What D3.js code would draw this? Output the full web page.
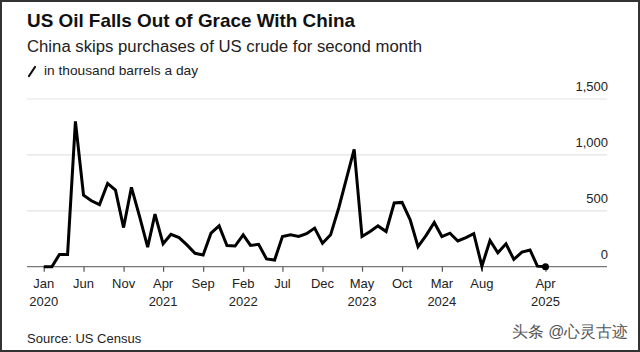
<!DOCTYPE html>
<html>
<head>
<meta charset="utf-8">
<script src="https://cdn.jsdelivr.net/npm/d3@7"></script>
<style>
  body { margin: 0; background: #fff; }
  text { font-family: "Liberation Sans", Arial, sans-serif; }
</style>
</head>
<body>
<div id="chart"></div>
<script>
// monthly imports, Jan 2020 .. Apr 2025 (thousand barrels a day)
const startMonth = "2020-01";
const values = [
  0, 0, 110, 110, 1300, 640, 590, 555, 745, 685, 350, 710,
  450, 175, 470, 205, 290, 260, 195, 120, 105, 300, 365, 190,
  185, 285, 190, 200, 70, 60, 270, 285, 270, 295, 345, 210,
  285, 525, 775, 1050, 270, 315, 365, 315, 570, 575, 420, 180,
  280, 395, 270, 300, 230, 260, 295, 5, 235, 125, 205, 65,
  130, 150, 5, 0
];
const tickMonths = ["2020-01", "2020-06", "2020-11", "2021-04", "2021-09", "2022-02",
  "2022-07", "2022-12", "2023-05", "2023-10", "2024-03", "2024-08", "2025-04"];
const tickMonthLabels = ["Jan", "Jun", "Nov", "Apr", "Sep", "Feb", "Jul", "Dec", "May", "Oct", "Mar", "Aug", "Apr"];
const tickYearLabels = ["2020", "", "", "2021", "", "2022", "", "", "2023", "", "2024", "", "2025"];
const yTicks = [0, 500, 1000, 1500];

const width = 640, height = 352;
const parse = d3.timeParse("%Y-%m");
const start = parse(startMonth);
const data = values.map((v, i) => ({ date: d3.timeMonth.offset(start, i), value: v }));

const svg = d3.select("#chart").append("svg")
  .attr("width", width)
  .attr("height", height);

svg.append("rect")
  .attr("x", 1).attr("y", 1)
  .attr("width", width - 2).attr("height", height - 2)
  .attr("fill", "#fff")
  .attr("stroke", "#333")
  .attr("stroke-width", 2);

const x = d3.scaleTime()
  .domain([new Date(2019, 9, 29), new Date(2025, 10, 22)])
  .range([27, 607]);

const y = d3.scaleLinear()
  .domain([0, 1500])
  .range([266.7, 99]);

// title block
svg.append("text")
  .attr("x", 27).attr("y", 27)
  .attr("font-size", 19).attr("font-weight", "bold").attr("fill", "#111")
  .attr("textLength", 328).attr("lengthAdjust", "spacingAndGlyphs")
  .text("US Oil Falls Out of Grace With China");

svg.append("text")
  .attr("x", 27).attr("y", 52)
  .attr("font-size", 16).attr("fill", "#222")
  .attr("textLength", 395).attr("lengthAdjust", "spacingAndGlyphs")
  .text("China skips purchases of US crude for second month");

svg.append("line")
  .attr("x1", 29).attr("y1", 76).attr("x2", 35).attr("y2", 67)
  .attr("stroke", "#111").attr("stroke-width", 2.2).attr("stroke-linecap", "round");

svg.append("text")
  .attr("x", 44).attr("y", 75)
  .attr("font-size", 13).attr("fill", "#222")
  .attr("textLength", 154).attr("lengthAdjust", "spacingAndGlyphs")
  .text("in thousand barrels a day");

// gridlines and y labels
const grid = svg.append("g");
grid.selectAll("line")
  .data(yTicks)
  .join("line")
  .attr("x1", 27).attr("x2", 607)
  .attr("y1", d => y(d)).attr("y2", d => y(d))
  .attr("stroke", d => d === 0 ? "#777" : "#e3e3e3")
  .attr("stroke-width", d => d === 0 ? 1.3 : 1.2);

grid.selectAll("text")
  .data(yTicks)
  .join("text")
  .attr("x", 608)
  .attr("y", d => y(d) - 8)
  .attr("text-anchor", "end")
  .attr("font-size", 13).attr("fill", "#222")
  .text(d3.format(","));

// x axis
const tickDates = tickMonths.map(parse);
const xAxis = svg.append("g")
  .attr("transform", `translate(0,${y(0)})`)
  .call(d3.axisBottom(x).tickValues(tickDates).tickSize(5).tickFormat(""));
xAxis.select(".domain").remove();
xAxis.selectAll(".tick line").attr("stroke", "#555").attr("stroke-width", 1.2);

const tickText = svg.append("g").selectAll("text")
  .data(tickDates)
  .join("text")
  .attr("x", d => x(d))
  .attr("text-anchor", "middle")
  .attr("font-size", 13).attr("fill", "#222");
tickText.append("tspan")
  .attr("x", d => x(d)).attr("y", 288)
  .text((d, i) => tickMonthLabels[i]);
tickText.append("tspan")
  .attr("x", d => x(d)).attr("y", 306)
  .text((d, i) => tickYearLabels[i]);

// the line
const line = d3.line()
  .x(d => x(d.date))
  .y(d => y(d.value));

svg.append("path")
  .datum(data)
  .attr("fill", "none")
  .attr("stroke", "#000")
  .attr("stroke-width", 3)
  .attr("stroke-linejoin", "miter")
  .attr("d", line);

const last = data[data.length - 1];
svg.append("circle")
  .attr("cx", x(last.date)).attr("cy", y(last.value))
  .attr("r", 3.5).attr("fill", "#000");

// footer
svg.append("text")
  .attr("x", 27).attr("y", 343)
  .attr("font-size", 13).attr("fill", "#222")
  .text("Source: US Census");

svg.append("text")
  .attr("x", 512).attr("y", 337)
  .attr("font-family", "Noto Sans CJK SC")
  .attr("font-size", 16).attr("fill", "#555")
  .attr("textLength", 116).attr("lengthAdjust", "spacingAndGlyphs")
  .text("头条 @心灵古迹");
</script>
</body>
</html>
